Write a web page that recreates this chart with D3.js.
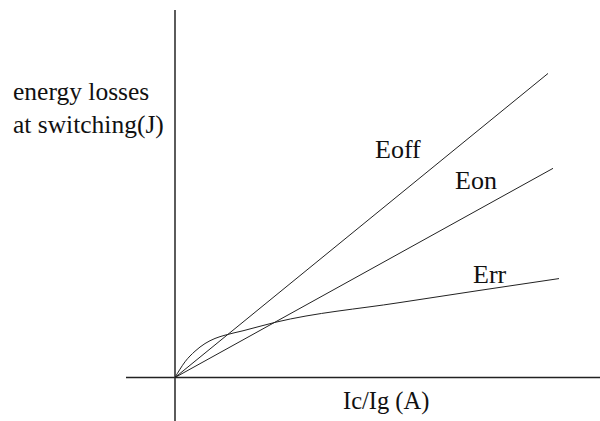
<!DOCTYPE html>
<html><head><meta charset="utf-8">
<script src="https://cdn.jsdelivr.net/npm/d3@7"></script>
<style>
html,body{margin:0;padding:0;background:#fff;}
</style></head>
<body><svg id="c" width="600" height="421"></svg>
<script>
// Data (x: Ic/Ig units, y: energy units)
const eoffX = [0, 93.25];
const eoffY = [0, 83.3];
const eonX = [0, 94.5];
const eonY = [0, 57.3];
const errX = [0, 2.5, 5, 7.5, 10, 12.5, 17, 25, 56, 96];
const errY = [0, 4.3, 7.2, 9.3, 10.7, 11.6, 12.8, 15.1, 20.5, 27.1];
const seriesNames = ["Eoff", "Eon", "Err"];
const xLabel = "Ic/Ig (A)";
const yLabel = ["energy losses", "at switching(J)"];

const FONT = "'Liberation Serif', 'DejaVu Serif', serif";
const svg = d3.select("#c");
const x = d3.scaleLinear().domain([0, 100]).range([175, 575]);
const y = d3.scaleLinear().domain([0, 100]).range([377.5, 12.5]);

// axes
svg.append("line").attr("x1", 126).attr("x2", 600).attr("y1", y(0)).attr("y2", y(0))
  .attr("stroke", "#222").attr("stroke-width", 1.6);
svg.append("line").attr("x1", x(0)).attr("x2", x(0)).attr("y1", 10).attr("y2", 421)
  .attr("stroke", "#333").attr("stroke-width", 1.6);

const line = d3.line().x(d => x(d[0])).y(d => y(d[1]));
const curve = d3.line().x(d => x(d[0])).y(d => y(d[1])).curve(d3.curveMonotoneX);

const series = [
  {pts: d3.zip(eoffX, eoffY), gen: line},
  {pts: d3.zip(eonX, eonY), gen: line},
  {pts: d3.zip(errX, errY), gen: curve}
];
series.forEach(s => {
  svg.append("path").attr("d", s.gen(s.pts)).attr("fill", "none")
    .attr("stroke", "#222").attr("stroke-width", 1);
});

// series labels
const labelPos = [[375, 158], [455, 189], [473, 283]];
seriesNames.forEach((n, i) => {
  svg.append("text").attr("x", labelPos[i][0]).attr("y", labelPos[i][1])
    .attr("font-family", FONT).attr("fill", "#111")
    .attr("font-size", 26).text(n);
});

svg.append("text").attr("x", 343).attr("y", 409).attr("font-size", 24.5)
  .attr("font-family", FONT).attr("fill", "#111").text(xLabel);
yLabel.forEach((t, i) => {
  svg.append("text").attr("x", 13).attr("y", 100 + i * 33).attr("font-size", 25.5)
    .attr("font-family", FONT).attr("fill", "#111").text(t);
});
</script></body></html>
